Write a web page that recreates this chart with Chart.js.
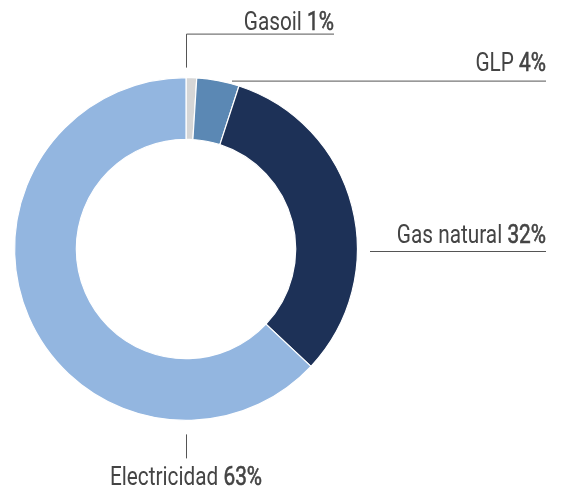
<!DOCTYPE html>
<html>
<head>
<meta charset="utf-8">
<script src="https://cdn.jsdelivr.net/npm/chart.js@4"></script>
<style>
  html, body { margin: 0; padding: 0; background: #fff; }
  #wrap { width: 563px; height: 490px; position: relative; }
</style>
</head>
<body>
<div id="wrap"><canvas id="chart"></canvas></div>
<script>
const labels = ["Gasoil", "GLP", "Gas natural", "Electricidad"];
const values = [1, 4, 32, 63];
const colors = ["#d6d6d6", "#5b88b4", "#1d3157", "#93b6e0"];

const FONT = '26px Roboto, "Noto Sans", sans-serif';
const SQUEEZE = 0.8; // narrow the glyphs horizontally
const TEXT = "#444444";
const LINE = "#555555";

// label with normal name and heavier percentage, anchored at x by align
function drawLabel(ctx, name, pct, x, y, align) {
  ctx.save();
  ctx.font = FONT;
  const w1 = ctx.measureText(name + " ").width;
  const w2 = ctx.measureText(pct).width;
  const total = w1 + w2;
  let left = x / SQUEEZE;
  if (align === "right") left = x / SQUEEZE - total;
  if (align === "center") left = x / SQUEEZE - total / 2;
  ctx.scale(SQUEEZE, 1);
  ctx.textAlign = "left";
  ctx.textBaseline = "alphabetic";
  ctx.fillStyle = TEXT;
  ctx.fillText(name + " ", left, y);
  ctx.strokeStyle = TEXT;
  ctx.lineWidth = 0.6;
  ctx.fillText(pct, left + w1, y);
  ctx.strokeText(pct, left + w1, y);
  ctx.restore();
}

function line(ctx, pts) {
  ctx.beginPath();
  ctx.moveTo(pts[0][0], pts[0][1]);
  for (let i = 1; i < pts.length; i++) ctx.lineTo(pts[i][0], pts[i][1]);
  ctx.stroke();
}

const calloutPlugin = {
  id: "callouts",
  afterDraw(chart) {
    const arc = chart.getDatasetMeta(0).data[0];
    const cx = arc.x, cy = arc.y, r = arc.outerRadius;
    const ctx = chart.ctx;
    ctx.save();
    ctx.strokeStyle = LINE;
    ctx.lineWidth = 1;
    // Gasoil: up from the top of the ring, then right
    line(ctx, [[cx + 0.5, cy - r - 10], [cx + 0.5, cy - r - 43.5], [cx + 148, cy - r - 43.5]]);
    // GLP
    line(ctx, [[cx + 46, cy - r + 3.5], [546, cy - r + 3.5]]);
    // Gas natural
    line(ctx, [[370, cy + 2.5], [546, cy + 2.5]]);
    // Electricidad
    line(ctx, [[cx + 0.5, cy + r + 14], [cx + 0.5, cy + r + 38]]);
    ctx.restore();

    const p = values.map(v => v + "%");
    drawLabel(ctx, labels[0], p[0], cx + 148, cy - r - 48, "right");
    drawLabel(ctx, labels[1], p[1], 546, cy - r - 7, "right");
    drawLabel(ctx, labels[2], p[2], 546, cy - 6, "right");
    drawLabel(ctx, labels[3], p[3], cx, cy + r + 65, "center");
  }
};

new Chart(document.getElementById("chart"), {
  type: "doughnut",
  data: {
    labels: labels,
    datasets: [{
      data: values,
      backgroundColor: colors,
      borderColor: "#ffffff",
      borderWidth: 1.2
    }]
  },
  options: {
    responsive: true,
    maintainAspectRatio: false,
    animation: false,
    cutout: "64%",
    layout: { padding: { left: 14, right: 205, top: 77, bottom: 69 } },
    plugins: {
      legend: { display: false },
      tooltip: { enabled: false }
    }
  },
  plugins: [calloutPlugin]
});
</script>
</body>
</html>
